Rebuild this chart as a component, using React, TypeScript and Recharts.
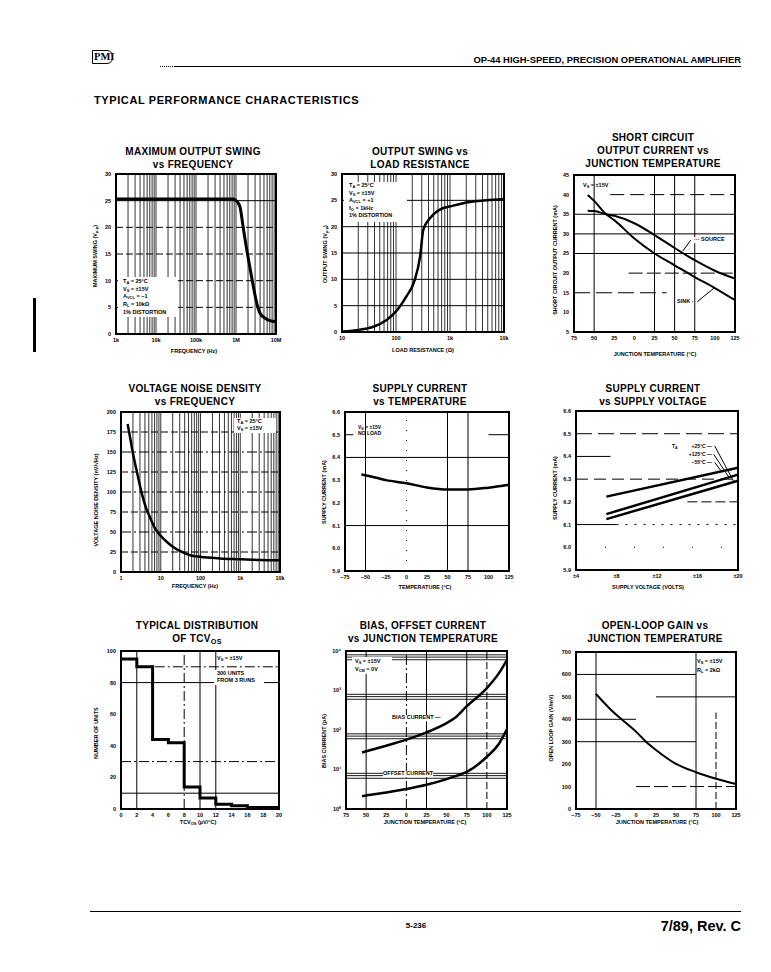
import React from 'react';
import { LineChart, Line, XAxis, YAxis, CartesianGrid, ReferenceLine, ReferenceArea } from 'recharts';

// ---- maximum output swing vs frequency ----
const swingFreq = [1000, 10000, 100000, 500000, 850000, 1000000, 1250000, 1500000, 1800000, 2200000, 2700000, 3300000, 4000000, 5300000, 7000000, 10000000];
const swingVpp = [25.3, 25.3, 25.3, 25.3, 25.3, 25.0, 23.9, 20.2, 16.4, 12.7, 9.0, 5.8, 3.9, 3.0, 2.5, 2.3];
const swingXTicks = [1e3, 1e4, 1e5, 1e6, 1e7];
const swingXLabels = ['1k', '10k', '100k', '1M', '10M'];
const swingYTicks = [0, 5, 10, 15, 20, 25, 30];

// ---- output swing vs load resistance ----
const loadOhms = [10, 21.5, 38, 67, 106, 157, 218, 280, 320, 425, 635, 1150, 2300, 4700, 10000];
const loadVpp = [0.1, 0.45, 1.0, 2.3, 4.2, 6.8, 9.6, 14.4, 19.4, 21.6, 23.2, 24.0, 24.7, 25.0, 25.25];
const loadXTicks = [10, 100, 1000, 10000];
const loadXLabels = ['10', '100', '1k', '10k'];

// ---- short circuit current vs temperature ----
const scTemp = [-58, -50, -35, -25, 0, 25, 50, 75, 100, 125];
const sinkMa = [39.9, 38.4, 35.0, 33.5, 28.8, 25.0, 22.0, 19.0, 16.2, 13.1];
const sourceMa = [35.9, 35.8, 35.0, 34.6, 32.7, 29.7, 26.4, 23.3, 20.6, 18.6];
const tempTicks = [-75, -50, -25, 0, 25, 50, 75, 100, 125];
const tempLabelsNoSign = ['75', '50', '25', '0', '25', '50', '75', '100', '125'];
const tempLabels = ['\u221275', '\u221250', '\u221225', '0', '25', '50', '75', '100', '125'];
const scYTicks = [5, 10, 15, 20, 25, 30, 35, 40, 45];

// ---- voltage noise density ----
const noiseFreq = [1.47, 1.71, 2.0, 2.52, 3.06, 4.08, 5.5, 7.3, 9.7, 14.3, 21, 31, 55, 98, 310, 1000, 3200, 10000];
const noiseNv = [185, 167, 148, 125, 106, 83, 67, 54, 46, 37.5, 31, 26, 21, 19, 17, 16, 15, 14.6];
const noiseXTicks = [1, 10, 100, 1000, 10000];
const noiseXLabels = ['1', '10', '100', '1k', '10k'];
const noiseYTicks = [0, 25, 50, 75, 100, 125, 150, 175, 200];

// ---- supply current vs temperature ----
const isTemp = [-55, -50, -25, 0, 25, 50, 75, 100, 125];
const isMa = [6.325, 6.322, 6.3, 6.286, 6.268, 6.259, 6.259, 6.267, 6.28];
const isYTicks = [5.9, 6.0, 6.1, 6.2, 6.3, 6.4, 6.5, 6.6];

// ---- supply current vs supply voltage ----
const supplyV = [7, 20];
const isMinus55 = [6.223, 6.35];
const isPlus125 = [6.146, 6.32];
const isPlus25 = [6.124, 6.293];
const vXTicks = [4, 8, 12, 16, 20];
const vXLabels = ['\u00b14', '\u00b18', '\u00b112', '\u00b116', '\u00b120'];

// ---- TCVos distribution ----
const tcBins = [0, 2, 4, 6, 8, 10, 12, 14, 16, 18, 20];
const tcUnits = [95, 90, 44, 42, 14, 7, 3, 2, 1, 1, 1];
const tcYTicks = [0, 20, 40, 60, 80, 100];

// ---- bias / offset current ----
const biasTemp = [-55, -50, -25, 0, 25, 50, 60, 75, 100, 115, 125];
const biasPa = [27, 29, 40, 57, 87, 150, 200, 400, 1150, 2750, 6000];
const offsetPa = [2.1, 2.2, 2.6, 3.2, 4.1, 5.7, 6.7, 8.7, 21, 45, 106];
const biasYTicks = [1, 10, 100, 1000, 10000];
const biasYLabels = ['10\u2070', '10\u00b9', '10\u00b2', '10\u00b3', '10\u2074'];

// ---- open loop gain ----
const gainTemp = [-50, -25, -18, 0, 12.5, 25, 50, 75, 100, 125];
const gainVmV = [513, 421, 400, 345, 300, 263, 201, 164, 135, 111];
const gainYTicks = [0, 100, 200, 300, 400, 500, 600, 700];

const swingRows = swingFreq.map((f, i) => ({ f, v: swingVpp[i] }));
const loadRows = loadOhms.map((r, i) => ({ r, v: loadVpp[i] }));
const scRows = scTemp.map((t, i) => ({ t, sink: sinkMa[i], source: sourceMa[i] }));
const noiseRows = noiseFreq.map((f, i) => ({ f, v: noiseNv[i] }));
const isTempRows = isTemp.map((t, i) => ({ t, v: isMa[i] }));
const isVRows = supplyV.map((v, i) => ({ v, a: isMinus55[i], b: isPlus125[i], c: isPlus25[i] }));
const tcRows = tcBins.map((b, i) => ({ b, n: tcUnits[i] }));
const biasRows = biasTemp.map((t, i) => ({ t, ib: biasPa[i], ios: offsetPa[i] }));
const gainRows = gainTemp.map((t, i) => ({ t, v: gainVmV[i] }));

// plot rectangles on the page: [left, top, width, height]
const R1 = [116, 174, 160, 160];
const R2 = [342, 174, 162, 158];
const R3 = [574, 175, 161, 157];
const R4 = [121, 412, 159, 160];
const R5 = [345, 412, 164, 159];
const R6 = [576, 411, 162, 159];
const R7 = [121, 651, 158, 158];
const R8 = [346, 651, 161, 158];
const R9 = [576, 652, 160, 157];

const ML = 40, MT = 6, MR = 6, MB = 20;
const INK = '#000';
const tick = { fontSize: 5.5, fill: INK, fontWeight: 700 };
const xAx = { axisLine: false, tickLine: false, tickSize: 3, tickMargin: 1, height: MB, interval: 0 as const, tick };
const yAx = { axisLine: false, tickLine: false, tickSize: 3, tickMargin: 2, width: ML, interval: 0 as const, tick };
const DASH = '7 3';
const DASHDOT = '10 3 2 3';

function logGrid(lo: number, hi: number) {
  const out: number[] = [];
  for (let d = lo; d < hi; d *= 10) for (let m = 1; m < 10; m++) out.push(d * m);
  out.push(hi);
  return out;
}

const lab = (vals: number[], labels: string[]) => (v: number) => {
  const i = vals.indexOf(v);
  return i < 0 ? '' : labels[i];
};

const size = (r: number[]) => ({
  width: r[2] + ML + MR,
  height: r[3] + MT + MB,
  margin: { top: MT, right: MR, left: 0, bottom: 0 },
});

function Slot({ r, children }: any) {
  return <div style={{ position: 'absolute', left: r[0] - ML, top: r[1] - MT }}>{children}</div>;
}

function T({ x, y, s = 5.5, w = 700, a = 'l', bg, ls, children }: any) {
  const tx = a === 'c' ? '-50%' : a === 'r' ? '-100%' : '0';
  return (
    <div
      style={{
        position: 'absolute', left: x, top: y, transform: `translate(${tx},-50%)`,
        fontSize: s, fontWeight: w, lineHeight: 1, whiteSpace: 'nowrap', background: bg, letterSpacing: ls,
      }}
    >
      {children}
    </div>
  );
}

function VT({ x, y, s = 5.5, children }: any) {
  return (
    <div
      style={{
        position: 'absolute', left: x, top: y, transform: 'translate(-50%,-50%) rotate(-90deg)',
        fontSize: s, fontWeight: 700, lineHeight: 1, whiteSpace: 'nowrap',
      }}
    >
      {children}
    </div>
  );
}

const Sub = ({ children }: any) => (
  <sub style={{ fontSize: '0.72em', verticalAlign: '-0.3em', lineHeight: 0 }}>{children}</sub>
);

function Title({ x, y, lines }: any) {
  return (
    <>
      {lines.map((l: any, i: number) => (
        <T key={i} x={x} y={y + i * 12.8} s={10} a="c" ls={0.3}>
          {l}
        </T>
      ))}
    </>
  );
}

const curve = (key: string, w = 2.5, type: any = 'monotone') => (
  <Line dataKey={key} type={type} stroke={INK} strokeWidth={w} dot={false} isAnimationActive={false} />
);

export default function App() {
  return (
    <div
      style={{
        position: 'absolute', left: 0, top: 0, width: 771, height: 972, background: '#fff',
        overflow: 'hidden', fontFamily: "'Liberation Sans', Arial, sans-serif", color: INK,
      }}
    >
      {/* header */}
      <div
        style={{
          position: 'absolute', left: 92, top: 50, width: 18, height: 12, border: '1.5px solid #000',
          borderRadius: '0 6px 6px 0', fontFamily: "'Liberation Serif', serif", fontWeight: 700,
          fontSize: 10.5, lineHeight: '12px', paddingLeft: 1,
        }}
      >
        PMI
      </div>
      <T x={741} y={60} s={9.4} a="r">OP-44 HIGH-SPEED, PRECISION OPERATIONAL AMPLIFIER</T>
      <div style={{ position: 'absolute', left: 160, top: 66, width: 15, height: 0, borderTop: '1px dotted #000' }} />
      <div style={{ position: 'absolute', left: 175, top: 66, width: 566, height: 1, background: INK }} />
      <T x={94} y={100} s={11} ls={0.6}>TYPICAL PERFORMANCE CHARACTERISTICS</T>
      <div style={{ position: 'absolute', left: 33, top: 298, width: 3, height: 54, background: INK }} />

      {/* 1: maximum output swing */}
      <Title x={193} y={152} lines={['MAXIMUM OUTPUT SWING', 'vs FREQUENCY']} />
      <Slot r={R1}>
        <LineChart {...size(R1)} data={swingRows}>
          <CartesianGrid horizontal={false} stroke={INK} strokeWidth={0.8} />
          <XAxis dataKey="f" type="number" scale="log" domain={[1e3, 1e7]} ticks={logGrid(1e3, 1e7)}
            tickFormatter={lab(swingXTicks, swingXLabels)} {...xAx} />
          <YAxis type="number" domain={[0, 30]} ticks={swingYTicks} {...yAx} />
          <ReferenceLine y={25} stroke={INK} />
          {[20, 15, 10, 5].map((y) => <ReferenceLine key={y} y={y} stroke={INK} strokeDasharray={DASH} />)}
          {curve('v', 3)}
          <ReferenceArea x1={1e3} x2={1e7} y1={0} y2={30} fill="none" stroke={INK} strokeWidth={2} ifOverflow="visible" />
        </LineChart>
      </Slot>
      <div style={{ position: 'absolute', left: 118, top: 277, width: 60, height: 40, background: '#fff' }} />
      <T x={123} y={282}>T<Sub>A</Sub> = 25°C</T>
      <T x={123} y={290}>V<Sub>S</Sub> = ±15V</T>
      <T x={123} y={297}>A<Sub>VCL</Sub> = −1</T>
      <T x={123} y={305}>R<Sub>L</Sub> = 10kΩ</T>
      <T x={123} y={313}>1% DISTORTION</T>
      <VT x={96} y={256}>MAXIMUM SWING (V<Sub>p-p</Sub>)</VT>
      <T x={194} y={352} a="c">FREQUENCY (Hz)</T>

      {/* 2: output swing vs load */}
      <Title x={420} y={152} lines={['OUTPUT SWING vs', 'LOAD RESISTANCE']} />
      <Slot r={R2}>
        <LineChart {...size(R2)} data={loadRows}>
          <CartesianGrid horizontal={false} stroke={INK} strokeWidth={0.8} />
          <XAxis dataKey="r" type="number" scale="log" domain={[10, 10000]} ticks={logGrid(10, 10000)}
            tickFormatter={lab(loadXTicks, loadXLabels)} {...xAx} />
          <YAxis type="number" domain={[0, 30]} ticks={swingYTicks} {...yAx} />
          {[25, 20, 15, 10, 5].map((y) => <ReferenceLine key={y} y={y} stroke={INK} />)}
          {curve('v', 2.5)}
          <ReferenceArea x1={10} x2={10000} y1={0} y2={30} fill="none" stroke={INK} strokeWidth={2} ifOverflow="visible" />
        </LineChart>
      </Slot>
      <div style={{ position: 'absolute', left: 344, top: 182, width: 63, height: 40, background: '#fff' }} />
      <T x={349} y={186}>T<Sub>A</Sub> = 25°C</T>
      <T x={349} y={193.6}>V<Sub>S</Sub> = ±15V</T>
      <T x={349} y={201.2}>A<Sub>VCL</Sub> = +1</T>
      <T x={349} y={208.8}>f<Sub>O</Sub> = 1kHz</T>
      <T x={349} y={216.4}>1% DISTORTION</T>
      <VT x={326} y={254}>OUTPUT SWING (V<Sub>p-p</Sub>)</VT>
      <T x={423} y={351} a="c">LOAD RESISTANCE (Ω)</T>

      {/* 3: short circuit current */}
      <Title x={653} y={138} lines={['SHORT CIRCUIT', 'OUTPUT CURRENT vs', 'JUNCTION TEMPERATURE']} />
      <Slot r={R3}>
        <LineChart {...size(R3)} data={scRows}>
          <XAxis dataKey="t" type="number" domain={[-75, 125]} ticks={tempTicks}
            tickFormatter={lab(tempTicks, tempLabelsNoSign)} {...xAx} />
          <YAxis type="number" domain={[5, 45]} ticks={scYTicks} {...yAx} />
          {[35, 30, 25].map((y) => <ReferenceLine key={y} y={y} stroke={INK} />)}
          <ReferenceLine segment={[{ x: -30, y: 40 }, { x: 125, y: 40 }]} stroke={INK} strokeDasharray="14 6" />
          <ReferenceLine segment={[{ x: -7, y: 20 }, { x: 125, y: 20 }]} stroke={INK} strokeDasharray="14 4" />
          <ReferenceLine segment={[{ x: -75, y: 15 }, { x: 40, y: 15 }]} stroke={INK} strokeDasharray="16 6" />
          {[-50, 25, 50, 75].map((x) => <ReferenceLine key={x} x={x} stroke={INK} />)}
          <ReferenceLine segment={[{ x: 70, y: 28.4 }, { x: 60, y: 25.6 }]} stroke={INK} />
          <ReferenceLine segment={[{ x: 78, y: 12.7 }, { x: 99, y: 16.2 }]} stroke={INK} />
          {curve('sink', 2)}
          {curve('source', 2)}
          <ReferenceArea x1={-75} x2={125} y1={5} y2={45} fill="none" stroke={INK} strokeWidth={2} ifOverflow="visible" />
        </LineChart>
      </Slot>
      <T x={583} y={186}>V<Sub>S</Sub> = ±15V</T>
      <T x={694} y={240} bg="#fff">··· SOURCE</T>
      <T x={677} y={302} bg="#fff">SINK ·</T>
      <VT x={556} y={260}>SHORT CIRCUIT OUTPUT CURRENT (mA)</VT>
      <T x={655} y={355} a="c">JUNCTION TEMPERATURE (°C)</T>

      {/* 4: voltage noise density */}
      <Title x={195} y={389} lines={['VOLTAGE NOISE DENSITY', 'vs FREQUENCY']} />
      <Slot r={R4}>
        <LineChart {...size(R4)} data={noiseRows}>
          <CartesianGrid horizontal={false} stroke={INK} strokeWidth={0.8} />
          <XAxis dataKey="f" type="number" scale="log" domain={[1, 10000]} ticks={logGrid(1, 10000)}
            tickFormatter={lab(noiseXTicks, noiseXLabels)} {...xAx} />
          <YAxis type="number" domain={[0, 200]} ticks={noiseYTicks} {...yAx} />
          {[175, 150, 125, 100, 75, 50, 25].map((y) => (
            <ReferenceLine key={y} y={y} stroke={INK} strokeDasharray={y % 50 === 0 ? DASHDOT : DASH} />
          ))}
          {curve('v', 2.5)}
          <ReferenceArea x1={1} x2={10000} y1={0} y2={200} fill="none" stroke={INK} strokeWidth={2} ifOverflow="visible" />
        </LineChart>
      </Slot>
      <div style={{ position: 'absolute', left: 234, top: 418, width: 42, height: 15, background: '#fff' }} />
      <T x={237} y={422}>T<Sub>A</Sub> = 25°C</T>
      <T x={237} y={429}>V<Sub>S</Sub> = ±15V</T>
      <VT x={97} y={500}>VOLTAGE NOISE DENSITY (nV/√Hz)</VT>
      <T x={195} y={587} a="c">FREQUENCY (Hz)</T>

      {/* 5: supply current vs temperature */}
      <Title x={420} y={389} lines={['SUPPLY CURRENT', 'vs TEMPERATURE']} />
      <Slot r={R5}>
        <LineChart {...size(R5)} data={isTempRows}>
          <XAxis dataKey="t" type="number" domain={[-75, 125]} ticks={tempTicks}
            tickFormatter={lab(tempTicks, tempLabels)} {...xAx} />
          <YAxis type="number" domain={[5.9, 6.6]} ticks={isYTicks} tickFormatter={(v: number) => v.toFixed(1)} {...yAx} />
          {[6.4, 6.1].map((y) => <ReferenceLine key={y} y={y} stroke={INK} />)}
          <ReferenceLine segment={[{ x: -75, y: 6.5 }, { x: -65, y: 6.5 }]} stroke={INK} />
          <ReferenceLine segment={[{ x: 100, y: 6.5 }, { x: 125, y: 6.5 }]} stroke={INK} />
          {[-50, 50, 75].map((x) => <ReferenceLine key={x} x={x} stroke={INK} />)}
          <ReferenceLine x={0} stroke={INK} strokeDasharray="1 9" />
          {curve('v', 2.5)}
          <ReferenceArea x1={-75} x2={125} y1={5.9} y2={6.6} fill="none" stroke={INK} strokeWidth={2} ifOverflow="visible" />
        </LineChart>
      </Slot>
      <T x={358} y={427} s={5}>V<Sub>S</Sub> = ±15V</T>
      <T x={358} y={433} s={5}>NO LOAD</T>
      <VT x={325} y={492}>SUPPLY CURRENT (mA)</VT>
      <T x={425} y={588} a="c">TEMPERATURE (°C)</T>

      {/* 6: supply current vs supply voltage */}
      <Title x={653} y={389} lines={['SUPPLY CURRENT', 'vs SUPPLY VOLTAGE']} />
      <Slot r={R6}>
        <LineChart {...size(R6)} data={isVRows}>
          <XAxis dataKey="v" type="number" domain={[4, 20]} ticks={vXTicks}
            tickFormatter={lab(vXTicks, vXLabels)} {...xAx} />
          <YAxis type="number" domain={[5.9, 6.6]} ticks={isYTicks} tickFormatter={(v: number) => v.toFixed(1)} {...yAx} />
          <ReferenceLine y={6.5} stroke={INK} strokeDasharray="16 6" />
          <ReferenceLine segment={[{ x: 4, y: 6.4 }, { x: 7.4, y: 6.4 }]} stroke={INK} />
          <ReferenceLine y={6.3} stroke={INK} strokeDasharray="12 6" />
          <ReferenceLine segment={[{ x: 15, y: 6.2 }, { x: 20, y: 6.2 }]} stroke={INK} strokeDasharray="10 4" />
          <ReferenceLine segment={[{ x: 4, y: 6.1 }, { x: 8, y: 6.1 }]} stroke={INK} />
          <ReferenceLine segment={[{ x: 8, y: 6.1 }, { x: 20, y: 6.1 }]} stroke={INK} strokeDasharray="2 7" />
          <ReferenceLine y={6.0} stroke={INK} strokeDasharray="1 28" />
          <ReferenceLine segment={[{ x: 17.7, y: 6.446 }, { x: 19.6, y: 6.288 }]} stroke={INK} />
          <ReferenceLine segment={[{ x: 17.6, y: 6.409 }, { x: 19.11, y: 6.308 }]} stroke={INK} />
          <ReferenceLine segment={[{ x: 17.7, y: 6.374 }, { x: 18.36, y: 6.334 }]} stroke={INK} />
          {curve('a', 2.5, 'linear')}
          {curve('b', 2.5, 'linear')}
          {curve('c', 2.5, 'linear')}
          <ReferenceArea x1={4} x2={20} y1={5.9} y2={6.6} fill="none" stroke={INK} strokeWidth={2} ifOverflow="visible" />
        </LineChart>
      </Slot>
      <T x={672} y={446} s={5}>T<Sub>A</Sub></T>
      <T x={712} y={446} s={5} a="r">+25°C —</T>
      <T x={712} y={454} s={5} a="r">+125°C —</T>
      <T x={712} y={462} s={5} a="r">−55°C —</T>
      <VT x={556} y={488}>SUPPLY CURRENT (mA)</VT>
      <T x={648} y={588} a="c">SUPPLY VOLTAGE (VOLTS)</T>

      {/* 7: TCVos distribution */}
      <Title x={197} y={626} lines={['TYPICAL DISTRIBUTION', <span key="o">OF TCV<Sub>OS</Sub></span>]} />
      <Slot r={R7}>
        <LineChart {...size(R7)} data={tcRows}>
          <XAxis dataKey="b" type="number" domain={[0, 20]} ticks={tcBins} {...xAx} />
          <YAxis type="number" domain={[0, 100]} ticks={tcYTicks} {...yAx} />
          <ReferenceLine segment={[{ x: 2, y: 90 }, { x: 20, y: 90 }]} stroke={INK} strokeDasharray={DASHDOT} />
          <ReferenceLine y={80} stroke={INK} />
          <ReferenceLine y={30} stroke={INK} strokeDasharray={DASHDOT} />
          <ReferenceLine y={10} stroke={INK} />
          {[2, 10, 12].map((x) => <ReferenceLine key={x} x={x} stroke={INK} />)}
          <ReferenceLine x={8} stroke={INK} strokeDasharray={DASHDOT} />
          {curve('n', 3, 'stepAfter')}
          <ReferenceArea x1={0} x2={20} y1={0} y2={100} fill="none" stroke={INK} strokeWidth={2} ifOverflow="visible" />
        </LineChart>
      </Slot>
      <div style={{ position: 'absolute', left: 214, top: 670, width: 50, height: 15, background: '#fff' }} />
      <T x={217} y={659}>V<Sub>S</Sub> = ±15V</T>
      <T x={217} y={674}>300 UNITS</T>
      <T x={217} y={681}>FROM 3 RUNS</T>
      <VT x={97} y={733}>NUMBER OF UNITS</VT>
      <T x={198} y={823} a="c">TCV<Sub>OS</Sub> (µV/°C)</T>

      {/* 8: bias and offset current */}
      <Title x={423} y={626} lines={['BIAS, OFFSET CURRENT', 'vs JUNCTION TEMPERATURE']} />
      <Slot r={R8}>
        <LineChart {...size(R8)} data={biasRows}>
          <XAxis dataKey="t" type="number" domain={[-75, 125]} ticks={tempTicks}
            tickFormatter={lab(tempTicks, tempLabelsNoSign)} {...xAx} />
          <YAxis type="number" scale="log" domain={[1, 10000]} ticks={biasYTicks}
            tickFormatter={lab(biasYTicks, biasYLabels)} {...yAx} />
          {[6, 7, 8, 60, 70, 80, 600, 700, 800, 6000, 7000, 8000].map((y) => (
            <ReferenceLine key={y} y={y} stroke={INK} strokeWidth={0.9} />
          ))}
          {[-50, 25, 75].map((x) => <ReferenceLine key={x} x={x} stroke={INK} />)}
          <ReferenceLine x={0} stroke={INK} strokeDasharray={DASHDOT} />
          <ReferenceLine x={100} stroke={INK} strokeDasharray={DASH} />
          {curve('ib', 2.5)}
          {curve('ios', 2.5)}
          <ReferenceArea x1={-75} x2={125} y1={1} y2={10000} fill="none" stroke={INK} strokeWidth={2} ifOverflow="visible" />
        </LineChart>
      </Slot>
      <div style={{ position: 'absolute', left: 352, top: 657, width: 40, height: 17, background: '#fff' }} />
      <T x={355} y={662}>V<Sub>S</Sub> = ±15V</T>
      <T x={355} y={670}>V<Sub>CM</Sub> = 0V</T>
      <T x={392} y={718} bg="#fff">BIAS CURRENT —</T>
      <T x={383} y={774} bg="#fff">OFFSET CURRENT</T>
      <VT x={325} y={741}>BIAS CURRENT (pA)</VT>
      <T x={425} y={823} a="c">JUNCTION TEMPERATURE (°C)</T>

      {/* 9: open loop gain */}
      <Title x={655} y={626} lines={['OPEN-LOOP GAIN vs', 'JUNCTION TEMPERATURE']} />
      <Slot r={R9}>
        <LineChart {...size(R9)} data={gainRows}>
          <XAxis dataKey="t" type="number" domain={[-75, 125]} ticks={tempTicks}
            tickFormatter={lab(tempTicks, tempLabels)} {...xAx} />
          <YAxis type="number" domain={[0, 700]} ticks={gainYTicks} {...yAx} />
          <ReferenceLine segment={[{ x: -75, y: 600 }, { x: 75, y: 600 }]} stroke={INK} />
          <ReferenceLine segment={[{ x: 25, y: 500 }, { x: 125, y: 500 }]} stroke={INK} />
          <ReferenceLine segment={[{ x: -75, y: 400 }, { x: 0, y: 400 }]} stroke={INK} />
          <ReferenceLine segment={[{ x: -75, y: 300 }, { x: 75, y: 300 }]} stroke={INK} />
          <ReferenceLine segment={[{ x: 0, y: 100 }, { x: 125, y: 100 }]} stroke={INK} strokeDasharray="14 4" />
          {[-50, 75].map((x) => <ReferenceLine key={x} x={x} stroke={INK} />)}
          <ReferenceLine segment={[{ x: 100, y: 0 }, { x: 100, y: 430 }]} stroke={INK} strokeDasharray={DASH} />
          {curve('v', 2)}
          <ReferenceArea x1={-75} x2={125} y1={0} y2={700} fill="none" stroke={INK} strokeWidth={2} ifOverflow="visible" />
        </LineChart>
      </Slot>
      <T x={697} y={662}>V<Sub>S</Sub> = ±15V</T>
      <T x={697} y={671}>R<Sub>L</Sub> = 2kΩ</T>
      <VT x={552} y={728}>OPEN LOOP GAIN (V/mV)</VT>
      <T x={657} y={823} a="c">JUNCTION TEMPERATURE (°C)</T>

      {/* footer */}
      <div style={{ position: 'absolute', left: 90, top: 911, width: 651, height: 1, background: INK }} />
      <T x={416} y={926} s={8} a="c">5-236</T>
      <T x={741} y={926} s={14.5} a="r">7/89, Rev. C</T>
    </div>
  );
}
